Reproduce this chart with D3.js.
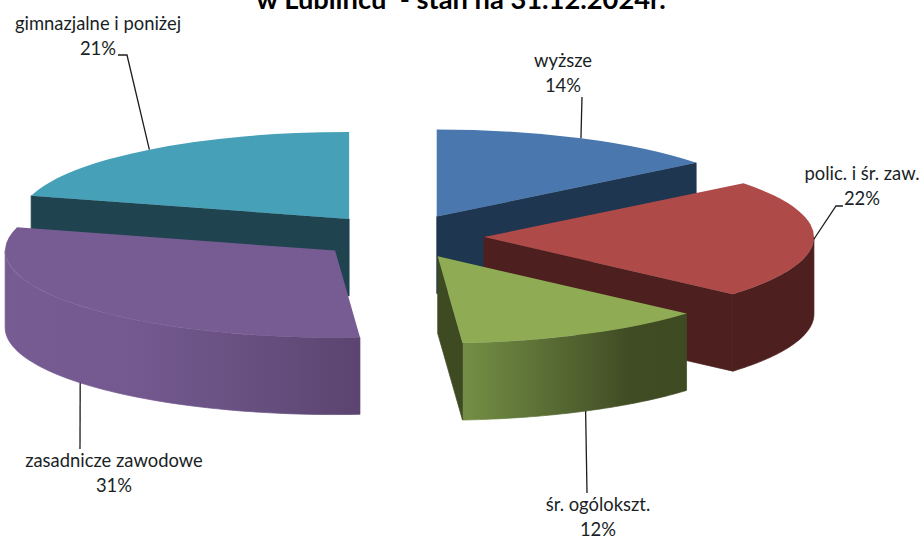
<!DOCTYPE html>
<html>
<head>
<meta charset="utf-8">
<script src="https://cdn.jsdelivr.net/npm/d3@7"></script>
<style>
  html, body { margin: 0; padding: 0; background: #fff; }
  svg { display: block; }
  text { font-family: Lato, "Open Sans", sans-serif; fill: #1a1f26; }
</style>
</head>
<body>
<div id="chart"></div>
<script>
// shares, the printed labels are rounded
var categories = ["wyższe", "polic. i śr. zaw.", "śr. ogólokszt.", "zasadnicze zawodowe", "gimnazjalne i poniżej"];
var shares = [14.4, 22, 12.4, 30.5, 20.7];
var percentLabels = ["14%", "22%", "12%", "31%", "21%"];
var titleText = "w Lublińcu  - stan na 31.12.2024r.";

var topColors = ["#4a78ae", "#ae4a47", "#8fac55", "#775c94", "#46a0b8"];
var faceColors = ["#1f3651", "#4e1f1f", "#3e4a22", "#5c4470", "#1f4450"];
// outer wall shading, left to right, as [offset, colour]
var wallStops = [
  [[0, "#1f3651"]],
  [[0, "#4e1f1f"]],
  [[0, "#748f45"], [0.75, "#404c24"], [1, "#3e4a22"]],
  [[0, "#775b93"], [0.35, "#745990"], [0.7, "#675080"], [1, "#5c4470"]],
  [[0, "#1f4450"]]
];

var width = 921, height = 536;
var cx = 400, cy = 236.5;
var rx = 330, ry = 87, depth = 77, explode = 0.2545;

// where each label block sits, and the elbow of its leader line
var labelPos = [
  {x: 563, y: 67, elbow: [[582, 97]]},
  {x: 862, y: 180, elbow: [[843, 206], [836, 206]]},
  {x: 598, y: 511, elbow: [[587, 493]]},
  {x: 114, y: 467, elbow: [[80, 449]]},
  {x: 98, y: 30, elbow: [[118, 55], [127, 55]]}
];

var svg = d3.select("#chart").append("svg")
    .attr("width", width)
    .attr("height", height);

var pie = d3.pie().sort(null);
var slices = pie(shares).map(function (d, i) {
  var mid = (d.startAngle + d.endAngle) / 2;
  return {
    i: i,
    start: d.startAngle,
    end: d.endAngle,
    mid: mid,
    ax: cx + explode * rx * Math.sin(mid),
    ay: cy - explode * ry * Math.cos(mid)
  };
});

function rimPoint(s, a, drop) {
  return [s.ax + rx * Math.sin(a), s.ay - ry * Math.cos(a) + (drop || 0)];
}

function apexPoint(s, drop) {
  return [s.ax, s.ay + (drop || 0)];
}

var lineGen = d3.line();
var arcGen = d3.arc().innerRadius(0).outerRadius(rx);

var defs = svg.append("defs");
slices.forEach(function (s) {
  var g = defs.append("linearGradient")
      .attr("id", "wall-" + s.i);
  wallStops[s.i].forEach(function (st) {
    g.append("stop").attr("offset", st[0]).attr("stop-color", st[1]);
  });
});

function arcSamples(s, from, to, drop) {
  var n = 60, pts = [];
  for (var k = 0; k <= n; k++) {
    pts.push(rimPoint(s, from + (to - from) * k / n, drop));
  }
  return pts;
}

// back slices first so the front ones cover them
var drawOrder = slices.slice().sort(function (a, b) {
  return d3.descending(Math.cos(a.mid), Math.cos(b.mid));
});

var bodyG = svg.append("g").attr("class", "body");

function addFace(g, s, angle) {
  g.append("path")
      .attr("d", lineGen([apexPoint(s), rimPoint(s, angle), rimPoint(s, angle, depth), apexPoint(s, depth)]) + "Z")
      .attr("fill", faceColors[s.i])
      .attr("stroke", faceColors[s.i])
      .attr("stroke-width", 0.7);
}

drawOrder.forEach(function (s) {
  var g = bodyG.append("g").attr("class", "slice _" + s.i);

  // curved outer wall, only the part that faces the viewer
  var from = Math.max(s.start, Math.PI / 2), to = Math.min(s.end, 3 * Math.PI / 2);
  if (to > from) {
    var top = arcSamples(s, from, to, 0);
    var bottom = arcSamples(s, to, from, depth);
    g.append("path")
        .attr("d", lineGen(top.concat(bottom)) + "Z")
        .attr("fill", "url(#wall-" + s.i + ")")
        .attr("stroke", "url(#wall-" + s.i + ")")
        .attr("stroke-width", 0.7);
  }

  // cut faces, only the ones turned towards the viewer
  if (s.end > 0 && s.end < Math.PI) addFace(g, s, s.end);
  if (s.start > Math.PI) addFace(g, s, s.start);

  // top face, a circular arc squashed into an ellipse
  g.append("path")
      .attr("transform", "translate(" + s.ax + "," + s.ay + ") scale(1," + (ry / rx) + ")")
      .attr("d", arcGen({startAngle: s.start, endAngle: s.end}))
      .attr("fill", topColors[s.i]);
});

var labelsG = svg.append("g").attr("class", "labels");

slices.forEach(function (s) {
  var pos = labelPos[s.i];
  var front = Math.cos(s.mid) < 0 && s.i !== 1;
  var pts = pos.elbow.concat([rimPoint(s, s.mid, front ? depth : 0)]);

  labelsG.append("path")
      .attr("d", lineGen(pts))
      .attr("fill", "none")
      .attr("stroke", "#1c1c1c")
      .attr("stroke-width", 1.3);

  labelsG.append("text")
      .attr("x", pos.x)
      .attr("y", pos.y)
      .attr("text-anchor", "middle")
      .attr("font-size", 18.4)
      .text(categories[s.i]);

  labelsG.append("text")
      .attr("x", pos.x)
      .attr("y", pos.y + 25)
      .attr("text-anchor", "middle")
      .attr("font-size", 18.4)
      .text(percentLabels[s.i]);
});

svg.append("text")
    .attr("x", 461)
    .attr("y", 9)
    .attr("text-anchor", "middle")
    .attr("font-size", 27.3)
    .attr("font-weight", "bold")
    .style("fill", "#000")
    .style("white-space", "pre")
    .text(titleText);
</script>
</body>
</html>
